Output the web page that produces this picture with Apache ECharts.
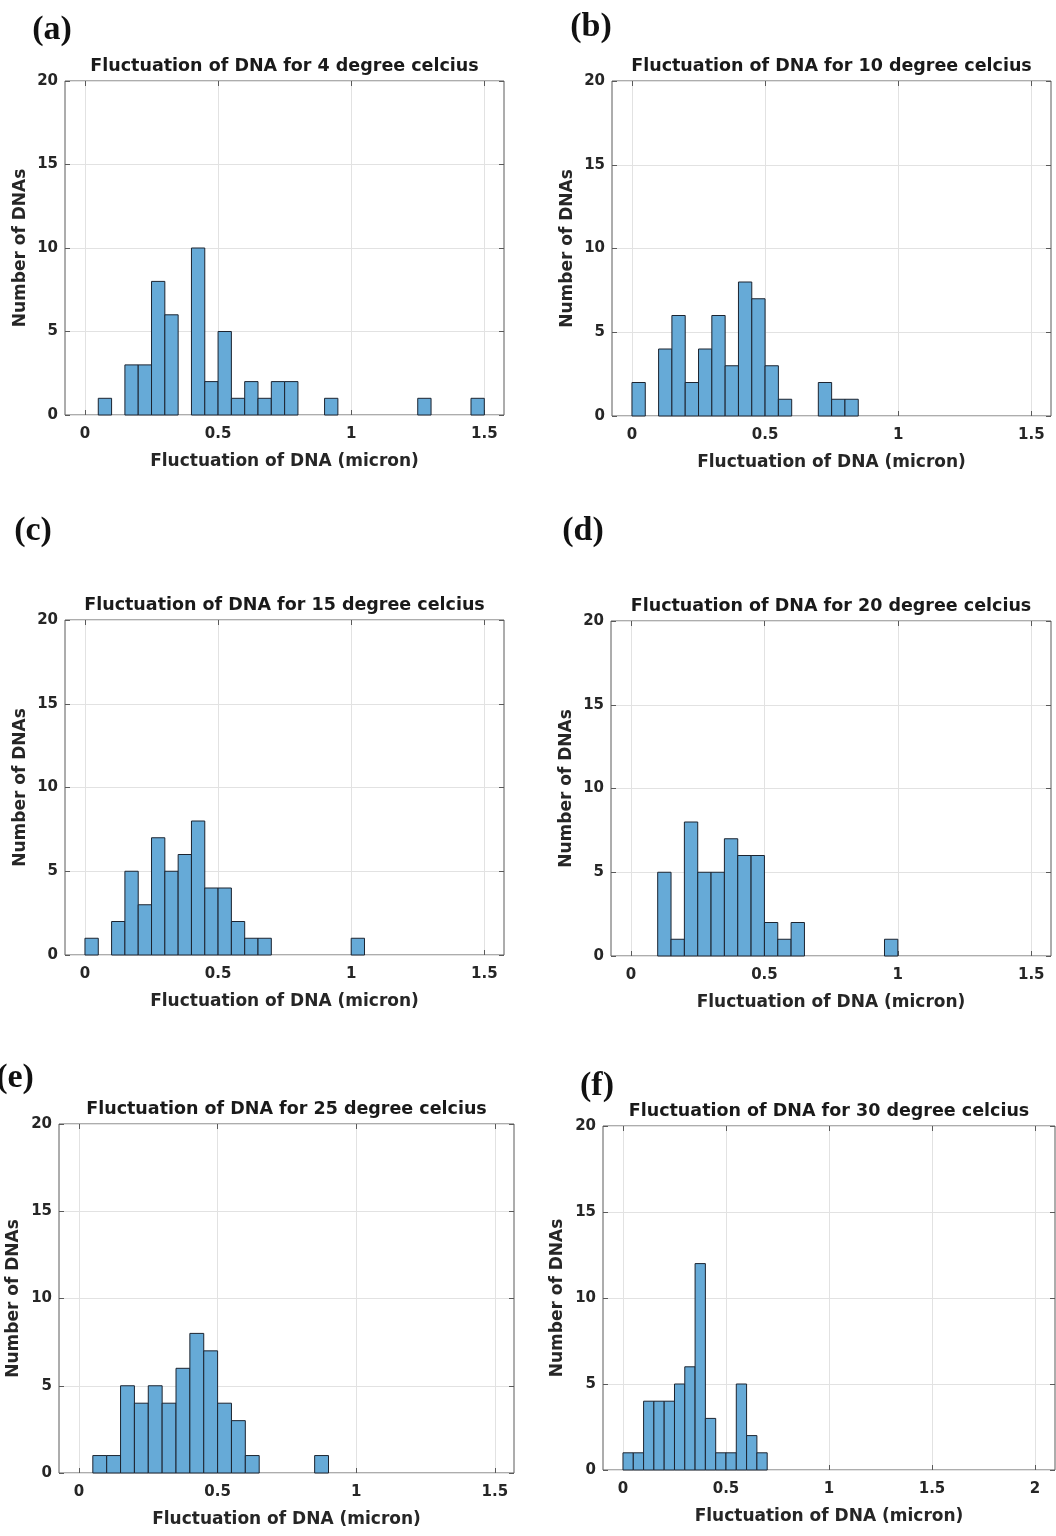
<!DOCTYPE html>
<html>
<head>
<meta charset="utf-8">
<title>Fluctuation of DNA</title>
<script src="https://cdn.jsdelivr.net/npm/echarts@6/dist/echarts.min.js"></script>
<style>
    html, body { margin: 0; padding: 0; background: #fff; }
    #chart { width: 1056px; height: 1536px; }
</style>
</head>
<body>
<div id="chart"></div>
<script>
// histogram counts, bin i covers [i*0.05, (i+1)*0.05]
var binWidth = 0.05;
var counts4  = [0,1,0,3,3,8,6,0,10,2,5,1,2,1,2,2,0,0,1,0,0,0,0,0,0,1,0,0,0,1];
var counts10 = [2,0,4,6,2,4,6,3,8,7,3,1,0,0,2,1,1];
var counts15 = [1,0,2,5,3,7,5,6,8,4,4,2,1,1,0,0,0,0,0,0,1];
var counts20 = [0,0,5,1,8,5,5,7,6,6,2,1,2,0,0,0,0,0,0,1];
var counts25 = [0,1,1,5,4,5,4,6,8,7,4,3,1,0,0,0,0,1];
var counts30 = [1,1,4,4,4,5,6,12,3,1,1,5,2,1];

var temps   = [4, 10, 15, 20, 25, 30];
var letters = ['(a)', '(b)', '(c)', '(d)', '(e)', '(f)'];
var xTicksShort = [0, 0.5, 1, 1.5];
var xTicksLong  = [0, 0.5, 1, 1.5, 2];

var allCounts = [counts4, counts10, counts15, counts20, counts25, counts30];

// layout of each panel (pixels)
var panels = [
    {left: 65,  top: 81,   width: 439, height: 334, xmin: -0.075, xmax: 1.574, ticks: xTicksShort, titleY: 57,   letter: [52, 30],   nameGap: 36},
    {left: 612, top: 81,   width: 439, height: 335, xmin: -0.075, xmax: 1.574, ticks: xTicksShort, titleY: 57,   letter: [591, 27],  nameGap: 36},
    {left: 65,  top: 620,  width: 439, height: 335, xmin: -0.075, xmax: 1.574, ticks: xTicksShort, titleY: 596,  letter: [33, 531],  nameGap: 36},
    {left: 611, top: 621,  width: 440, height: 335, xmin: -0.075, xmax: 1.574, ticks: xTicksShort, titleY: 597,  letter: [583, 531], nameGap: 36},
    {left: 59,  top: 1124, width: 455, height: 349, xmin: -0.072, xmax: 1.569, ticks: xTicksShort, titleY: 1100, letter: [15, 1078], nameGap: 37},
    {left: 603, top: 1126, width: 452, height: 344, xmin: -0.097, xmax: 2.097, ticks: xTicksLong,  titleY: 1102, letter: [597, 1086], nameGap: 37}
];

var font = 'DejaVu Sans';
var txtColor = '#262626';
var axisColor = '#5a5a5a';

function binData(counts) {
    var out = [];
    for (var i = 0; i < counts.length; i++) {
        if (counts[i] > 0) out.push([i * binWidth, (i + 1) * binWidth, counts[i]]);
    }
    return out;
}

function renderBin(params, api) {
    var p0 = api.coord([api.value(0), 0]);
    var p1 = api.coord([api.value(1), api.value(2)]);
    return {
        type: 'rect',
        shape: {x: p0[0], y: p1[1], width: p1[0] - p0[0], height: p0[1] - p1[1]},
        style: api.style()
    };
}

var grids = [], xAxes = [], yAxes = [], series = [], titles = [], graphics = [];

panels.forEach(function (p, i) {
    grids.push({left: p.left, top: p.top, width: p.width, height: p.height,
        show: true, borderColor: axisColor, borderWidth: 1, backgroundColor: '#fff'});
    titles.push({
        text: 'Fluctuation of DNA for ' + temps[i] + ' degree celcius',
        left: p.left + p.width / 2, top: p.titleY, textAlign: 'center', padding: 0,
        textStyle: {fontFamily: font, fontSize: 17.5, fontWeight: 'bold', color: '#1a1a1a'}
    });
    graphics.push({
        type: 'text', x: p.letter[0], y: p.letter[1],
        style: {text: letters[i], font: 'bold 34px "Liberation Serif"', fill: '#111',
            textAlign: 'center', textVerticalAlign: 'middle'}
    });
});

// main axes
panels.forEach(function (p, i) {
    xAxes.push({
        type: 'value', gridIndex: i, min: p.xmin, max: p.xmax, position: 'bottom',
        name: 'Fluctuation of DNA (micron)', nameLocation: 'middle', nameGap: 38,
        nameTextStyle: {fontFamily: font, fontSize: 17, fontWeight: 'bold', color: txtColor},
        axisLine: {show: false, onZero: false},
        axisTick: {show: true, inside: true, length: 5, customValues: p.ticks, lineStyle: {color: axisColor}},
        axisLabel: {customValues: p.ticks, margin: 12, fontFamily: font, fontSize: 15, fontWeight: 'bold', color: txtColor},
        splitLine: {show: true, lineStyle: {color: '#e2e2e2', width: 1}}
    });
    yAxes.push({
        type: 'value', gridIndex: i, min: 0, max: 20, interval: 5, position: 'left',
        name: 'Number of DNAs', nameLocation: 'middle', nameGap: p.nameGap,
        nameTextStyle: {fontFamily: font, fontSize: 17, fontWeight: 'bold', color: txtColor},
        axisLine: {show: false, onZero: false},
        axisTick: {show: true, inside: true, length: 5, lineStyle: {color: axisColor}},
        axisLabel: {margin: 7, fontFamily: font, fontSize: 15, fontWeight: 'bold', color: txtColor},
        splitLine: {show: true, lineStyle: {color: '#e2e2e2', width: 1}}
    });
});
// box ticks on top and right
panels.forEach(function (p, i) {
    xAxes.push({
        type: 'value', gridIndex: i, min: p.xmin, max: p.xmax, position: 'top',
        axisLine: {show: false, onZero: false}, axisLabel: {show: false}, splitLine: {show: false},
        axisTick: {show: true, inside: true, length: 5, customValues: p.ticks, lineStyle: {color: axisColor}}
    });
    yAxes.push({
        type: 'value', gridIndex: i, min: 0, max: 20, interval: 5, position: 'right',
        axisLine: {show: false, onZero: false}, axisLabel: {show: false}, splitLine: {show: false},
        axisTick: {show: true, inside: true, length: 5, lineStyle: {color: axisColor}}
    });
});

allCounts.forEach(function (c, i) {
    series.push({
        type: 'custom', xAxisIndex: i, yAxisIndex: i,
        renderItem: renderBin,
        encode: {x: [0, 1], y: 2},
        itemStyle: {color: '#66aad7', borderColor: '#1c2430', borderWidth: 1},
        data: binData(c),
        silent: true
    });
});

var myChart = echarts.init(document.getElementById('chart'), null, {renderer: 'canvas'});
myChart.setOption({
    animation: false,
    backgroundColor: '#fff',
    title: titles,
    grid: grids,
    xAxis: xAxes,
    yAxis: yAxes,
    series: series,
    graphic: graphics
});
</script>
</body>
</html>
